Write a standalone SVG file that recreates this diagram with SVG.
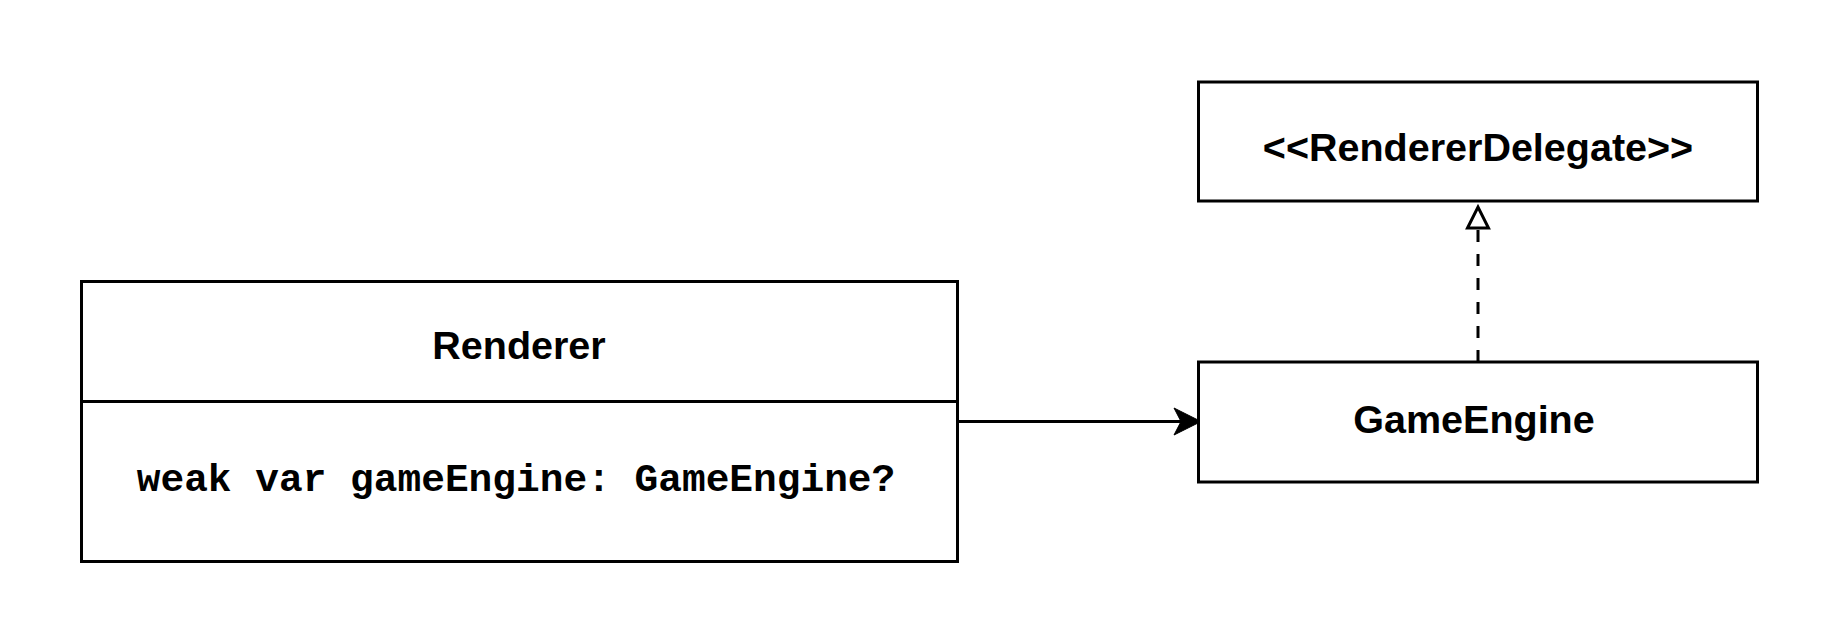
<svg xmlns="http://www.w3.org/2000/svg" width="1840" height="644" viewBox="0 0 1840 644">
  <style>
    .box { fill: #ffffff; stroke: #000000; stroke-width: 3; }
    .edge { fill: none; stroke: #000000; stroke-width: 3; }
    .label { font-family: "Liberation Sans", Arial, Helvetica, sans-serif; font-weight: bold; font-size: 39.5px; fill: #000000; text-anchor: middle; }
    .mono { font-family: "Liberation Mono", "Courier New", monospace; font-weight: bold; font-size: 39.5px; fill: #000000; text-anchor: middle; }
  </style>
  <defs>
    <marker id="arrowClassic" markerUnits="userSpaceOnUse" viewBox="-10 -16 32 32" refX="0" refY="0" markerWidth="32" markerHeight="32" orient="auto">
      <path d="M20,0 L-7,-13.5 L0,0 L-7,13.5 Z" fill="#000000" stroke="#000000" stroke-width="1"/>
    </marker>
    <marker id="arrowRealize" markerUnits="userSpaceOnUse" viewBox="-4 -16 32 32" refX="0" refY="0" markerWidth="32" markerHeight="32" orient="auto">
      <path d="M0,-10.5 L21,0 L0,10.5 Z" fill="#ffffff" stroke="#000000" stroke-width="3" stroke-linejoin="miter"/>
    </marker>
  </defs>
  <rect width="1840" height="644" fill="#ffffff"/>

  <g id="connectors">
    <path class="edge" d="M957.5,421.5 L1181,421.5" marker-end="url(#arrowClassic)"/>
    <path class="edge" d="M1478,362 L1478,228" stroke-dasharray="12 12" marker-end="url(#arrowRealize)"/>
  </g>

  <g id="renderer">
    <rect class="box" x="81.5" y="281.5" width="876" height="280"/>
    <line class="edge" x1="81.5" y1="401.5" x2="957.5" y2="401.5"/>
    <text class="label" x="519" y="359">Renderer</text>
    <text class="mono" x="516" y="491">weak var gameEngine: GameEngine?</text>
  </g>

  <g id="rendererDelegate">
    <rect class="box" x="1198.5" y="82" width="559" height="119"/>
    <text class="label" x="1478" y="161">&lt;&lt;RendererDelegate&gt;&gt;</text>
  </g>

  <g id="gameEngine">
    <rect class="box" x="1198.5" y="362" width="559" height="120"/>
    <text class="label" x="1474" y="433">GameEngine</text>
  </g>
</svg>
